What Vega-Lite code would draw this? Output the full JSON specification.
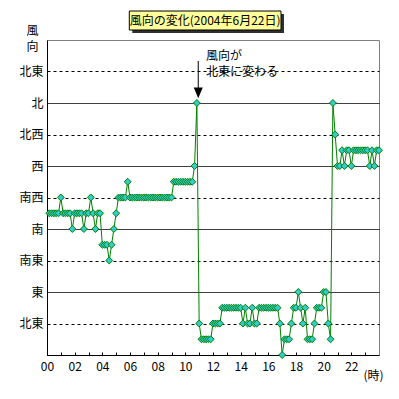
{
  "$schema": "https://vega.github.io/schema/vega-lite/v6.json",
  "width": 332,
  "height": 315,
  "autosize": {"type": "none"},
  "padding": {"left": 47, "top": 40, "right": 20, "bottom": 44},
  "background": "white",
  "config": {
    "view": {"stroke": "#808080", "strokeWidth": 1},
    "font": "Noto Sans CJK JP",
    "text": {"font": "Noto Sans CJK JP"}
  },
  "datasets": {
    "wind": [
      {"m":10,"d":202.5},{"m":20,"d":202.5},{"m":30,"d":202.5},{"m":40,"d":202.5},{"m":50,"d":202.5},
      {"m":60,"d":225},{"m":70,"d":202.5},{"m":80,"d":202.5},{"m":90,"d":202.5},{"m":100,"d":202.5},
      {"m":110,"d":180},{"m":120,"d":202.5},{"m":130,"d":202.5},{"m":140,"d":202.5},{"m":150,"d":202.5},
      {"m":160,"d":180},{"m":170,"d":202.5},{"m":180,"d":202.5},{"m":190,"d":225},{"m":200,"d":202.5},
      {"m":210,"d":180},{"m":220,"d":202.5},{"m":230,"d":202.5},{"m":240,"d":157.5},{"m":250,"d":157.5},
      {"m":260,"d":157.5},{"m":270,"d":135},{"m":280,"d":157.5},{"m":290,"d":180},{"m":300,"d":202.5},
      {"m":310,"d":225},{"m":320,"d":225},{"m":330,"d":225},{"m":340,"d":225},{"m":350,"d":247.5},
      {"m":360,"d":225},{"m":370,"d":225},{"m":380,"d":225},{"m":390,"d":225},{"m":400,"d":225},
      {"m":410,"d":225},{"m":420,"d":225},{"m":430,"d":225},{"m":440,"d":225},{"m":450,"d":225},
      {"m":460,"d":225},{"m":470,"d":225},{"m":480,"d":225},{"m":490,"d":225},{"m":500,"d":225},
      {"m":510,"d":225},{"m":520,"d":225},{"m":530,"d":225},{"m":540,"d":225},
      {"m":550,"d":247.5},{"m":560,"d":247.5},{"m":570,"d":247.5},{"m":580,"d":247.5},{"m":590,"d":247.5},
      {"m":600,"d":247.5},{"m":610,"d":247.5},{"m":620,"d":247.5},{"m":630,"d":247.5},
      {"m":640,"d":270},{"m":650,"d":360},{"m":660,"d":45},
      {"m":670,"d":22.5},{"m":680,"d":22.5},{"m":690,"d":22.5},{"m":700,"d":22.5},{"m":710,"d":22.5},
      {"m":720,"d":45},{"m":730,"d":45},{"m":740,"d":45},{"m":750,"d":45},
      {"m":760,"d":67.5},{"m":770,"d":67.5},{"m":780,"d":67.5},{"m":790,"d":67.5},{"m":800,"d":67.5},
      {"m":810,"d":67.5},{"m":820,"d":67.5},{"m":830,"d":67.5},{"m":840,"d":67.5},
      {"m":850,"d":45},{"m":860,"d":67.5},{"m":870,"d":45},{"m":880,"d":45},{"m":890,"d":67.5},
      {"m":900,"d":45},{"m":910,"d":45},
      {"m":920,"d":67.5},{"m":930,"d":67.5},{"m":940,"d":67.5},{"m":950,"d":67.5},{"m":960,"d":67.5},
      {"m":970,"d":67.5},{"m":980,"d":67.5},{"m":990,"d":67.5},{"m":1000,"d":67.5},
      {"m":1010,"d":45},{"m":1020,"d":0},{"m":1030,"d":22.5},{"m":1040,"d":22.5},{"m":1050,"d":22.5},
      {"m":1060,"d":45},{"m":1070,"d":67.5},{"m":1080,"d":67.5},{"m":1090,"d":90},{"m":1100,"d":67.5},
      {"m":1110,"d":45},{"m":1120,"d":67.5},{"m":1130,"d":22.5},{"m":1140,"d":22.5},{"m":1150,"d":22.5},
      {"m":1160,"d":45},{"m":1170,"d":67.5},{"m":1180,"d":67.5},{"m":1190,"d":67.5},{"m":1200,"d":90},
      {"m":1210,"d":90},{"m":1220,"d":45},{"m":1230,"d":22.5},{"m":1240,"d":360},{"m":1250,"d":315},
      {"m":1260,"d":270},{"m":1270,"d":270},{"m":1280,"d":292.5},{"m":1290,"d":270},{"m":1300,"d":292.5},
      {"m":1310,"d":292.5},{"m":1320,"d":270},{"m":1330,"d":292.5},{"m":1340,"d":292.5},{"m":1350,"d":292.5},
      {"m":1360,"d":292.5},{"m":1370,"d":292.5},{"m":1380,"d":292.5},{"m":1390,"d":292.5},{"m":1400,"d":270},
      {"m":1410,"d":292.5},{"m":1420,"d":270},{"m":1430,"d":292.5},{"m":1440,"d":292.5}
    ]
  },
  "layer": [
    {
      "data": {"name": "wind"},
      "mark": {"type": "line", "color": "#008000", "strokeWidth": 1, "clip": false},
      "encoding": {
        "x": {
          "field": "m", "type": "quantitative",
          "scale": {"domain": [0, 1440], "nice": false, "zero": false},
          "axis": {
            "values": [0,60,120,180,240,300,360,420,480,540,600,660,720,780,840,900,960,1020,1080,1140,1200,1260,1320,1380],
            "tickCount": 100,
            "labelExpr": "datum.value % 120 == 0 ? (datum.value < 600 ? '0' + (datum.value/60) : '' + (datum.value/60)) : ''",
            "grid": false,
            "domainColor": "black",
            "tickColor": "black",
            "tickSize": -3,
            "labelPadding": 9,
            "labelFont": "Noto Sans CJK JP",
            "labelFontSize": 12,
            "labelColor": "black",
            "labelFlush": false,
            "labelOverlap": false,
            "labelBound": false,
            "title": "(時)",
            "titleFont": "Noto Sans CJK JP",
            "titleFontSize": 12,
            "titleFontWeight": "normal",
            "titleColor": "black",
            "titleAngle": 0,
            "titleAlign": "center",
            "titleBaseline": "middle",
            "titleX": 326,
            "titleY": 20
          }
        },
        "y": {
          "field": "d", "type": "quantitative",
          "scale": {"domain": [0, 450], "nice": false, "zero": false},
          "axis": {
            "values": [45,90,135,180,225,270,315,360,405],
            "tickCount": 100,
            "labelExpr": "['北東','東','南東','南','南西','西','北西','北','北東'][round(datum.value/45) - 1]",
            "grid": true,
            "gridColor": "black",
            "gridOpacity": 1,
            "gridWidth": 1,
            "gridDash": {"condition": {"test": "datum.value % 90 == 0", "value": [1, 0]}, "value": [3, 3]},
            "ticks": false,
            "domainColor": "black",
            "labelPadding": 4,
            "labelFont": "Noto Sans CJK JP",
            "labelFontSize": 12,
            "labelColor": "black",
            "labelFlush": false,
            "labelOverlap": false,
            "labelBound": false,
            "title": ["風", "向"],
            "titleFont": "Noto Sans CJK JP",
            "titleFontSize": 12,
            "titleFontWeight": "normal",
            "titleColor": "black",
            "titleAngle": 0,
            "titleAlign": "center",
            "titleBaseline": "top",
            "titleLineHeight": 16,
            "titleX": -15,
            "titleY": -15
          }
        }
      }
    },
    {
      "data": {"name": "wind"},
      "mark": {"type": "point", "shape": "diamond", "filled": true, "fill": "#33CCCC", "stroke": "#008000", "strokeWidth": 1, "size": 48, "opacity": 1, "clip": false},
      "encoding": {
        "x": {"field": "m", "type": "quantitative"},
        "y": {"field": "d", "type": "quantitative"}
      }
    },
    {
      "data": {"values": [{}]},
      "mark": {"type": "rect", "fill": "#303030", "clip": false},
      "encoding": {
        "x": {"datum": 370, "type": "quantitative"},
        "x2": {"datum": 1028},
        "y": {"datum": 487, "type": "quantitative"},
        "y2": {"datum": 460}
      }
    },
    {
      "data": {"values": [{}]},
      "mark": {"type": "rect", "fill": "#FFFF99", "stroke": "black", "strokeWidth": 1, "clip": false},
      "encoding": {
        "x": {"datum": 357, "type": "quantitative"},
        "x2": {"datum": 1015},
        "y": {"datum": 491.4, "type": "quantitative"},
        "y2": {"datum": 464.3}
      }
    },
    {
      "data": {"values": [{}]},
      "mark": {"type": "text", "text": "風向の変化(2004年6月22日)", "fontSize": 12, "color": "black", "align": "center", "baseline": "middle", "clip": false},
      "encoding": {
        "x": {"datum": 686, "type": "quantitative"},
        "y": {"datum": 477.5, "type": "quantitative"}
      }
    },
    {
      "data": {"values": [{}]},
      "mark": {"type": "rule", "color": "black", "strokeWidth": 1, "clip": false},
      "encoding": {
        "x": {"datum": 656, "type": "quantitative"},
        "y": {"datum": 420, "type": "quantitative"},
        "y2": {"datum": 380}
      }
    },
    {
      "data": {"values": [{}]},
      "mark": {"type": "point", "shape": "M-1,-1.2L1,-1.2L0,1.2Z", "filled": true, "color": "black", "size": 81, "opacity": 1, "clip": false},
      "encoding": {
        "x": {"datum": 656, "type": "quantitative"},
        "y": {"datum": 374.6, "type": "quantitative"}
      }
    },
    {
      "data": {"values": [{}]},
      "mark": {"type": "text", "text": "風向が", "fontSize": 12, "color": "black", "align": "left", "baseline": "middle", "clip": false},
      "encoding": {
        "x": {"datum": 690, "type": "quantitative"},
        "y": {"datum": 427, "type": "quantitative"}
      }
    },
    {
      "data": {"values": [{}]},
      "mark": {"type": "text", "text": "北東に変わる", "fontSize": 12, "color": "black", "align": "left", "baseline": "middle", "clip": false},
      "encoding": {
        "x": {"datum": 690, "type": "quantitative"},
        "y": {"datum": 404, "type": "quantitative"}
      }
    }
  ]
}
